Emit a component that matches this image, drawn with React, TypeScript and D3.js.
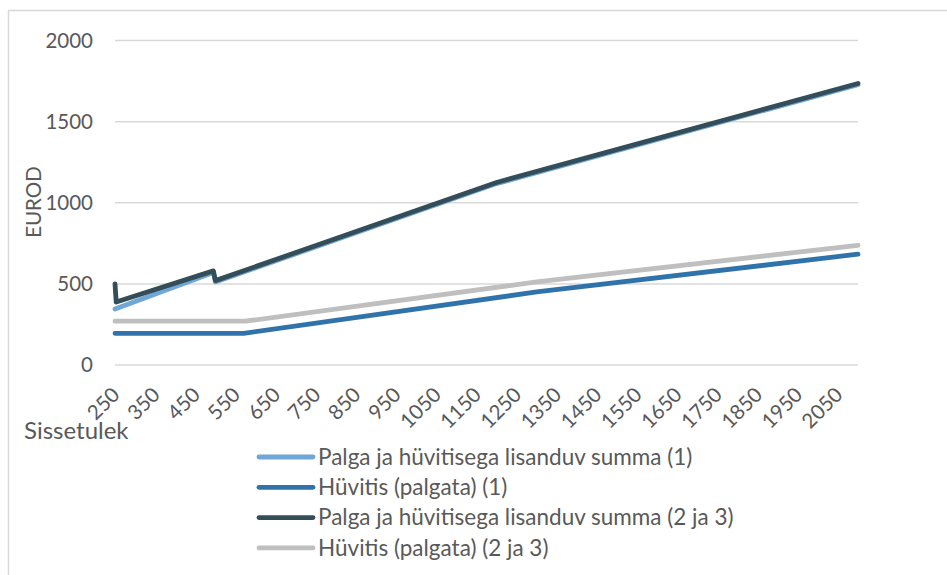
import React from "react";
import * as d3 from "d3";

const xTicks = [250, 350, 450, 550, 650, 750, 850, 950, 1050, 1150, 1250, 1350, 1450, 1550, 1650, 1750, 1850, 1950, 2050];
const yTicks = [0, 500, 1000, 1500, 2000];

// Series 1: Palga ja hüvitisega lisanduv summa (1)
const sum1Income = [250, 495, 500, 1200, 2100];
const sum1Values = [345, 570, 512, 1118, 1728];
// Series 2: Hüvitis (palgata) (1)
const ben1Income = [250, 570, 1300, 2100];
const ben1Values = [195, 195, 450, 683];
// Series 3: Palga ja hüvitisega lisanduv summa (2 ja 3)
const sum23Income = [250, 253, 495, 500, 1200, 2100];
const sum23Values = [500, 388, 580, 520, 1125, 1735];
// Series 4: Hüvitis (palgata) (2 ja 3)
const ben23Income = [250, 575, 1300, 2100];
const ben23Values = [270, 270, 512, 738];

const seriesNames = [
  "Palga ja hüvitisega lisanduv summa (1)",
  "Hüvitis (palgata) (1)",
  "Palga ja hüvitisega lisanduv summa (2 ja 3)",
  "Hüvitis (palgata) (2 ja 3)",
];
const seriesColors = ["#70A7D6", "#2F73AA", "#344E59", "#BFBFBF"];

const W = 947;
const H = 575;
const FONT = "Lato, 'Open Sans', sans-serif";
const TEXT = "#595959";

export default function App() {
  const x = d3.scaleLinear().domain([250, 2100]).range([115, 858]);
  const y = d3.scaleLinear().domain([0, 2000]).range([365, 40.5]);
  const line = d3
    .line<[number, number]>()
    .x((d) => x(d[0]))
    .y((d) => y(d[1]));

  const series: [number, number][][] = [
    sum1Income.map((v, i) => [v, sum1Values[i]]),
    ben1Income.map((v, i) => [v, ben1Values[i]]),
    sum23Income.map((v, i) => [v, sum23Values[i]]),
    ben23Income.map((v, i) => [v, ben23Values[i]]),
  ];

  return (
    <svg
      width={W}
      height={H}
      style={{ position: "absolute", left: 0, top: 0, background: "#fff" }}
      fontFamily={FONT}
    >
      <rect x={8.5} y={10.5} width={1000} height={1000} fill="#fff" stroke="#D9D9D9" strokeWidth={1.5} />
      {yTicks.map((t) => (
        <g key={t}>
          <line x1={115} x2={858} y1={y(t)} y2={y(t)} stroke="#D9D9D9" strokeWidth={1.5} />
          <text x={93} y={y(t)} dy="0.35em" textAnchor="end" fontSize={20.5} fill={TEXT}>
            {t}
          </text>
        </g>
      ))}
      {xTicks.map((t) => (
        <text
          key={t}
          transform={`translate(${x(t) + 6},${396}) rotate(-45)`}
          textAnchor="end"
          fontSize={20.5}
          fill={TEXT}
        >
          {t}
        </text>
      ))}
      <text x={24} y={439} fontSize={24} fill={TEXT}>
        Sissetulek
      </text>
      <text transform={`translate(41,202) rotate(-90)`} textAnchor="middle" fontSize={20.5} fill={TEXT}>
        EUROD
      </text>
      {series.map((s, i) => (
        <path
          key={i}
          d={line(s) || ""}
          fill="none"
          stroke={seriesColors[i]}
          strokeWidth={4.8}
          strokeLinejoin="round"
          strokeLinecap="round"
        />
      ))}
      {seriesNames.map((n, i) => {
        const cy = 457 + i * 30.3;
        return (
          <g key={n}>
            <line x1={259} x2={313} y1={cy} y2={cy} stroke={seriesColors[i]} strokeWidth={4.8} strokeLinecap="round" />
            <text x={318} y={cy} dy="0.35em" fontSize={22.5} fill={TEXT}>
              {n}
            </text>
          </g>
        );
      })}
    </svg>
  );
}
